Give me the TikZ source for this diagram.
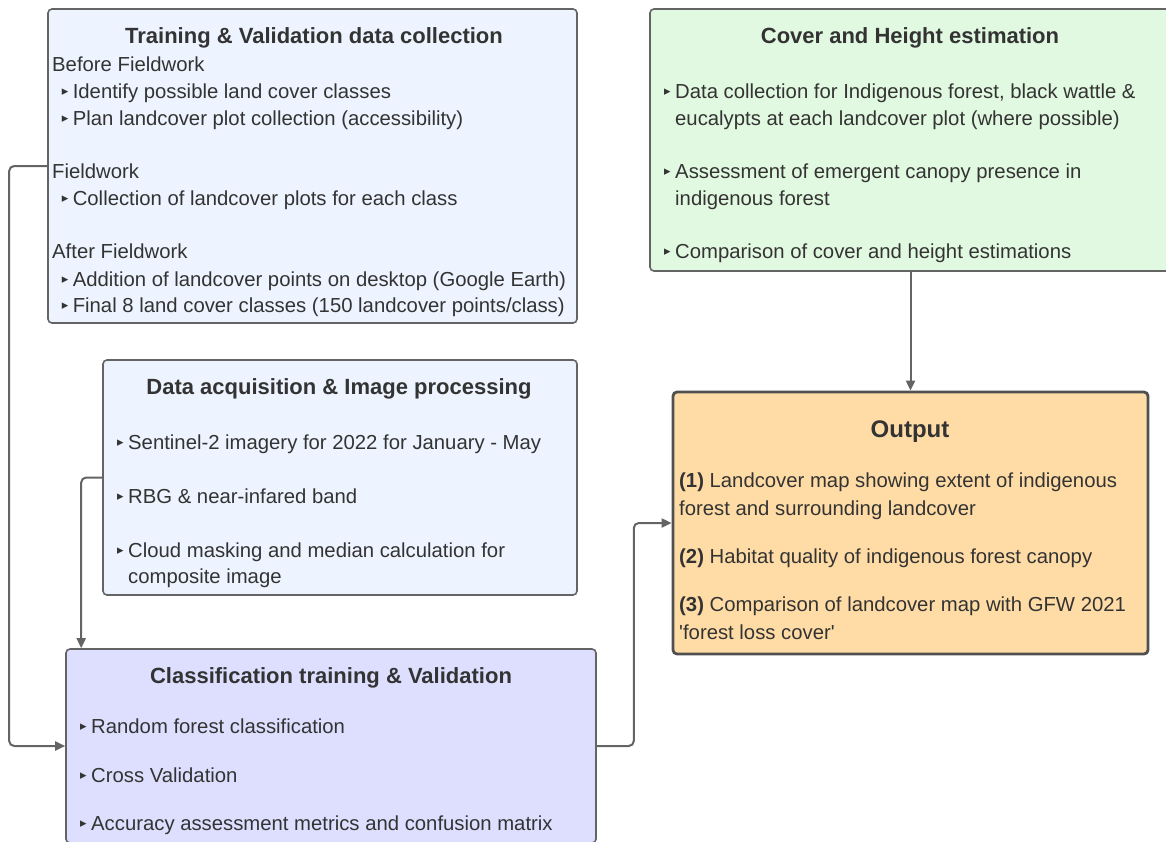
\documentclass[tikz,border=0pt]{standalone}
\usepackage{fontspec}
\setmainfont{Liberation Sans}
\newfontfamily\dejavu{DejaVu Sans}
\usetikzlibrary{arrows.meta,calc}
\definecolor{txt}{RGB}{51,51,51}
\definecolor{linegray}{RGB}{100,100,100}
\definecolor{bluefill}{RGB}{237,244,255}
\definecolor{greenfill}{RGB}{226,249,225}
\definecolor{orangefill}{RGB}{255,220,165}
\definecolor{violetfill}{RGB}{222,223,255}
\newcommand\bodyfnt{\fontsize{20.3}{24}\selectfont}
\newcommand\titlefnt{\fontsize{22}{26}\selectfont\bfseries}
\newcommand\bul{\llap{\makebox[11pt][l]{\raisebox{2.6pt}{\dejavu\fontsize{13}{13}\selectfont ▸}}}}
\tikzset{
  box/.style={draw=linegray, line width=1.6pt, rounded corners=4pt, inner sep=0pt},
  bodytxt/.style={anchor=base west, inner sep=0pt, text=txt, font=\bodyfnt},
  titletxt/.style={anchor=base, inner sep=0pt, text=txt, font=\titlefnt},
  conn/.style={draw=linegray, line width=2pt, rounded corners=5pt, -{Triangle[length=10pt,width=9pt]}},
}
\begin{document}
\begin{tikzpicture}[x=1pt,y=-1pt]
\useasboundingbox (0,0) rectangle (1166,841);
% boxes
\node[box, fill=bluefill, minimum width=529pt, minimum height=314pt] (train) at (312.5,166) {};
\node[box, fill=greenfill, minimum width=521pt, minimum height=262pt] (cover) at (910.5,140) {};
\node[box, fill=bluefill, minimum width=474pt, minimum height=235pt] (data) at (340,477.5) {};
\node[box, fill=orangefill, line width=2.8pt, draw={rgb,255:red,80;green,80;blue,80}, minimum width=475pt, minimum height=262pt] (output) at (910.5,523) {};
\node[box, fill=violetfill, minimum width=530pt, minimum height=194pt] (class) at (331,746) {};
% training texts
\node[titletxt] (tr0) at (314,43) {Training \& Validation data collection};
\node[bodytxt] (tr1) at (52,71) {Before Fieldwork};
\node[bodytxt] (tr2) at (72.6,98) {\bul Identify possible land cover classes};
\node[bodytxt] (tr3) at (72.6,125) {\bul Plan landcover plot collection (accessibility)};
\node[bodytxt] (tr4) at (52,178) {Fieldwork};
\node[bodytxt] (tr5) at (72.6,205) {\bul Collection of landcover plots for each class};
\node[bodytxt] (tr6) at (52,258) {After Fieldwork};
\node[bodytxt] (tr7) at (72.6,286) {\bul Addition of landcover points on desktop (Google Earth)};
\node[bodytxt] (tr8) at (72.6,312) {\bul Final 8 land cover classes (150 landcover points/class)};
% cover texts
\node[titletxt] (co0) at (910,43) {Cover and Height estimation};
\node[bodytxt] (co1) at (675,98) {\bul Data collection for Indigenous forest, black wattle \&};
\node[bodytxt] (co2) at (675,125) {eucalypts at each landcover plot (where possible)};
\node[bodytxt] (co3) at (675,178) {\bul Assessment of emergent canopy presence in};
\node[bodytxt] (co4) at (675,205) {indigenous forest};
\node[bodytxt] (co5) at (675,258) {\bul Comparison of cover and height estimations};
% data texts
\node[titletxt] (da0) at (339,394) {Data acquisition \& Image processing};
\node[bodytxt] (da1) at (128,449) {\bul Sentinel-2 imagery for 2022 for January - May};
\node[bodytxt] (da2) at (128,503) {\bul RBG \& near-infared band};
\node[bodytxt] (da3) at (128,557) {\bul Cloud masking and median calculation for};
\node[bodytxt] (da4) at (128,583) {composite image};
% output texts
\node[titletxt, font=\fontsize{24}{28}\selectfont\bfseries] (ou0) at (910,437) {Output};
\node[bodytxt] (ou1) at (679,487) {\textbf{(1)} Landcover map showing extent of indigenous};
\node[bodytxt] (ou2) at (679,515) {forest and surrounding landcover};
\node[bodytxt] (ou3) at (679,563) {\textbf{(2)} Habitat quality of indigenous forest canopy};
\node[bodytxt] (ou4) at (679,611) {\textbf{(3)} Comparison of landcover map with GFW 2021};
\node[bodytxt] (ou5) at (679,639) {\textquotesingle forest loss cover\textquotesingle};
% classification texts
\node[titletxt] (cl0) at (331,683) {Classification training \& Validation};
\node[bodytxt] (cl1) at (91,733) {\bul Random forest classification};
\node[bodytxt] (cl2) at (91,782) {\bul Cross Validation};
\node[bodytxt] (cl3) at (91,830) {\bul Accuracy assessment metrics and confusion matrix};
% connectors
\draw[conn] (train.west) -- ++(-38,0) |- (class.west);
\draw[conn] (data.west) -| ($(class.north west)+(16,0)$);
\draw[conn] (cover.south) -- (output.north);
\draw[conn] (class.east) -- ++(37,0) |- (output.west);
\end{tikzpicture}
\end{document}
